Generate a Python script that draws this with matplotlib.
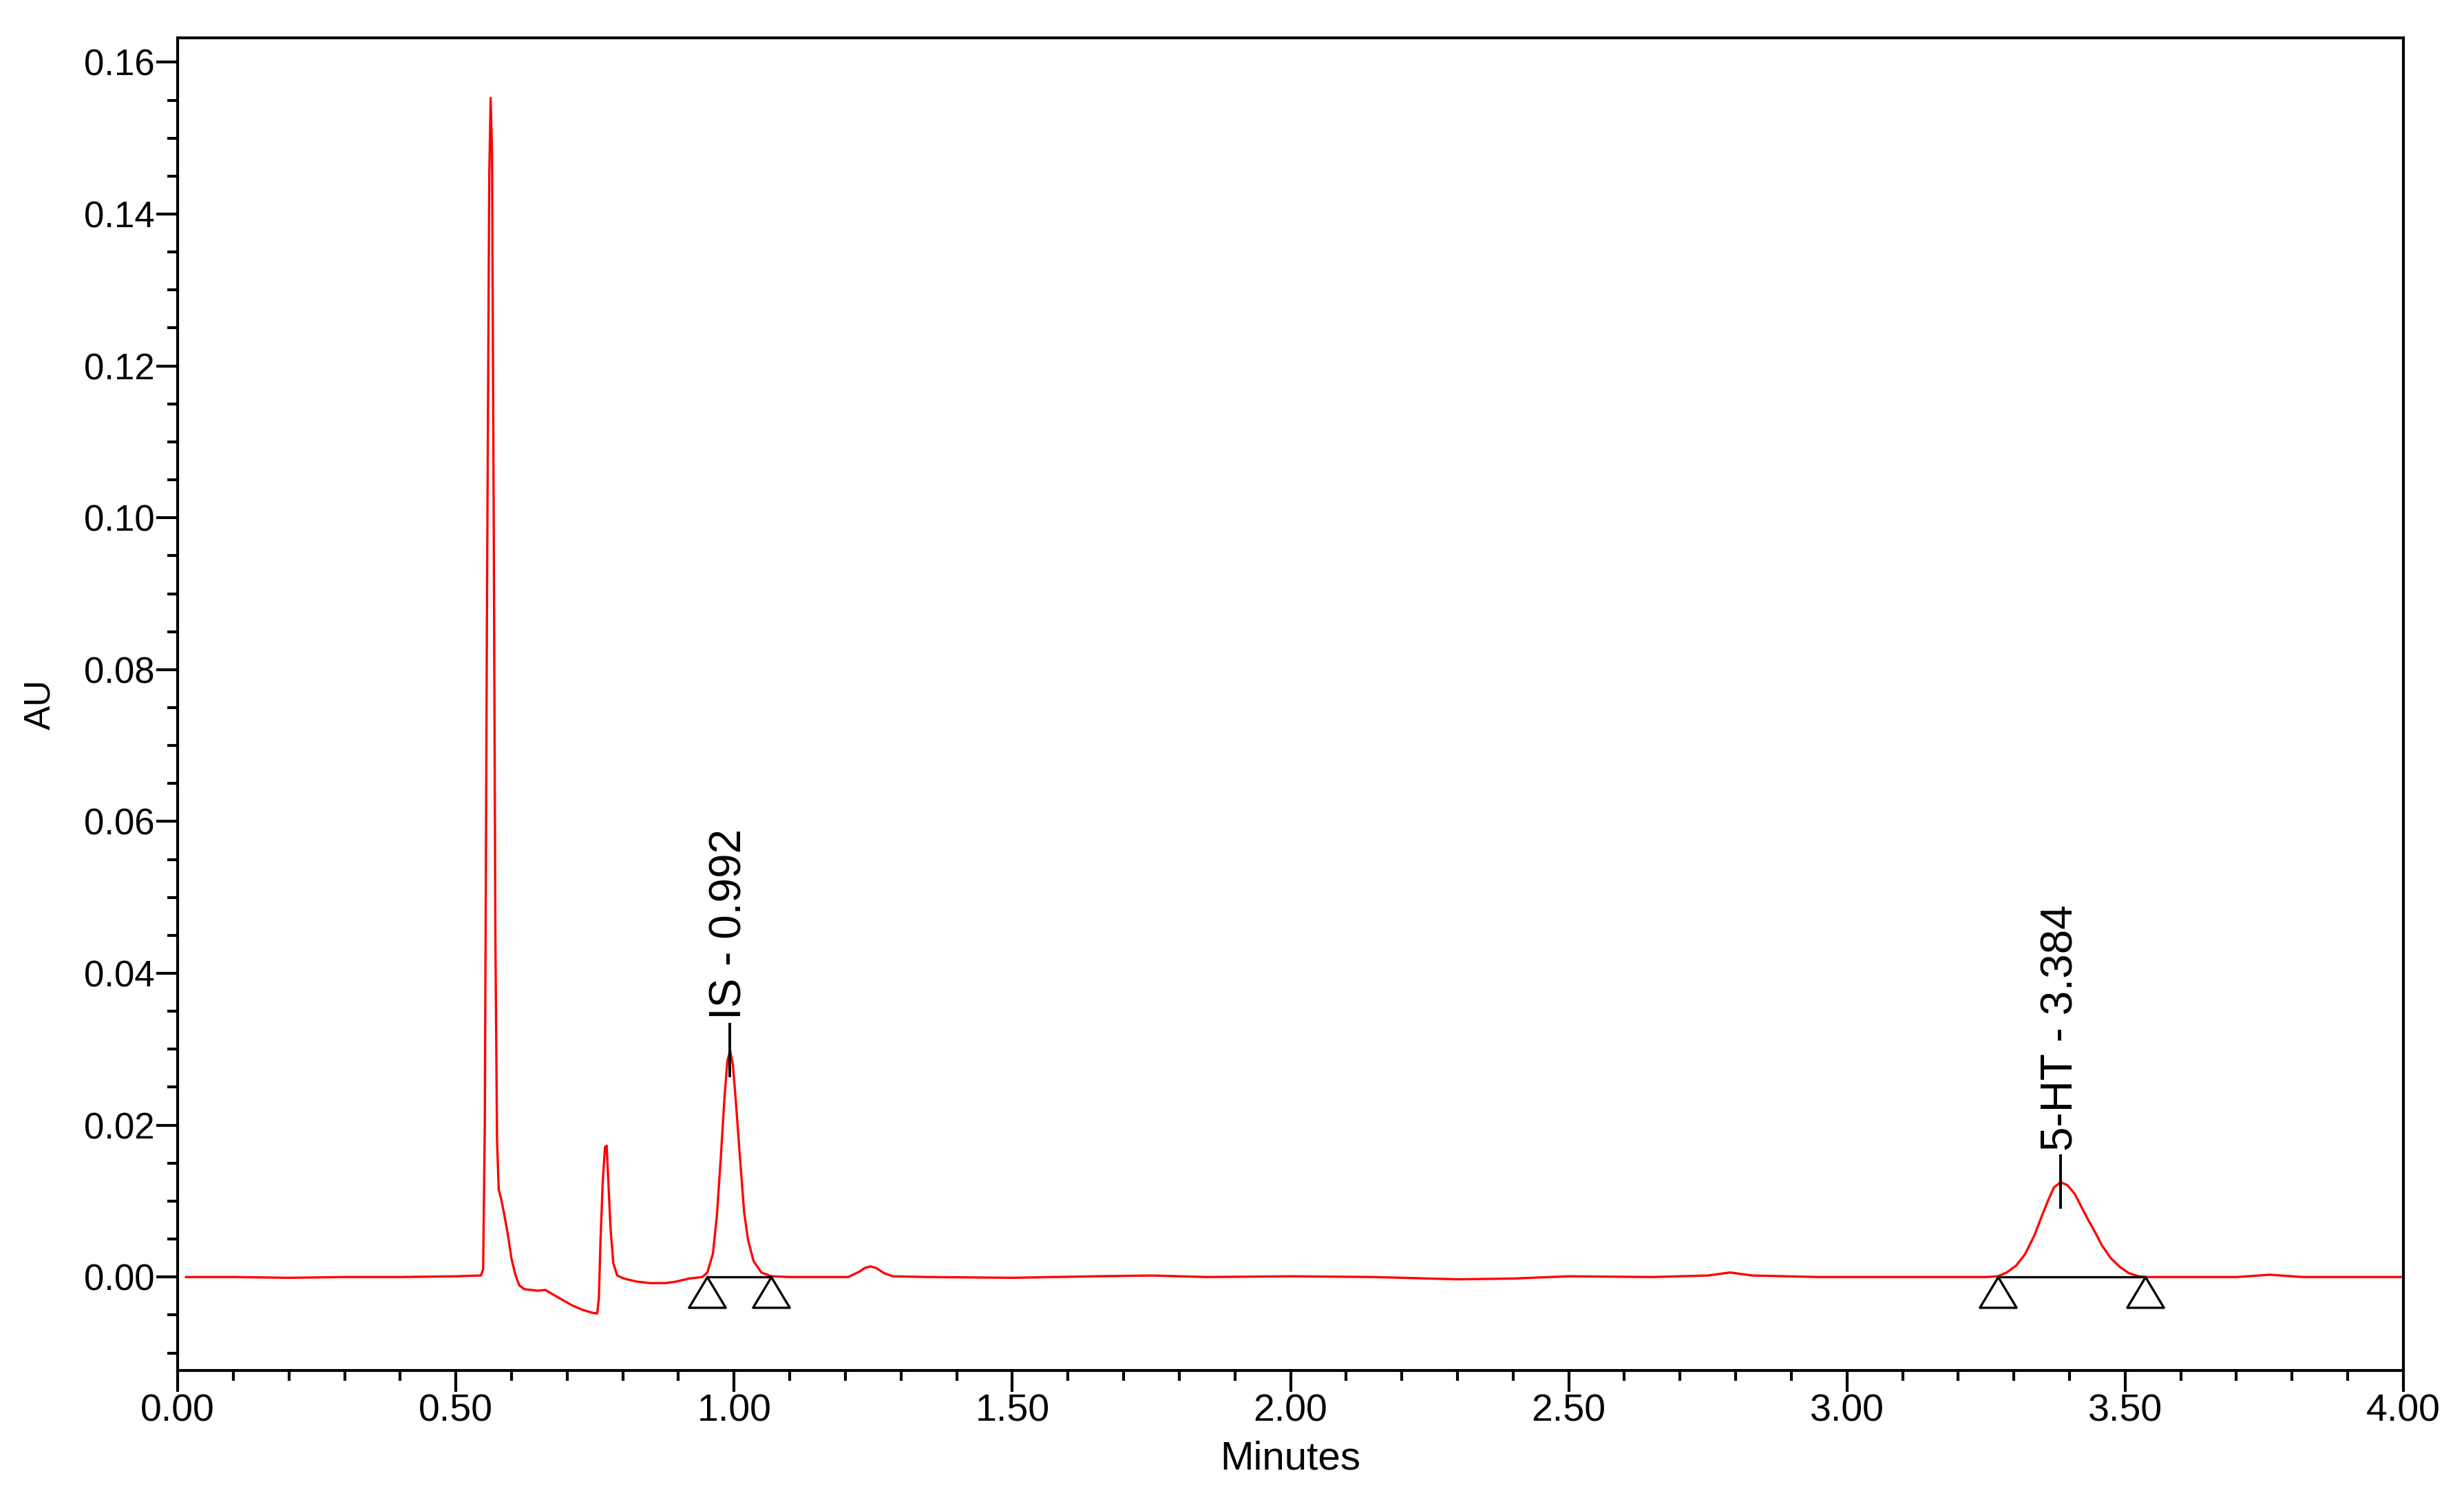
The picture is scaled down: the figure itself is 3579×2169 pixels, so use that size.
import matplotlib.pyplot as plt
from matplotlib.ticker import MultipleLocator, FormatStrFormatter

plt.rcParams['font.family'] = ['Liberation Sans', 'DejaVu Sans']

# chromatogram trace (minutes, AU)
t = [0.015, 0.10, 0.20, 0.30, 0.40, 0.50, 0.545, 0.549, 0.552, 0.556, 0.560, 0.5625,
     0.565, 0.568, 0.571, 0.574, 0.577, 0.581, 0.586, 0.593, 0.600, 0.607, 0.614,
     0.623, 0.647, 0.661, 0.670, 0.689, 0.708, 0.727, 0.745, 0.754,
     0.757, 0.760, 0.764, 0.768, 0.771, 0.774, 0.778, 0.783, 0.790, 0.802, 0.825,
     0.849, 0.877, 0.896, 0.919, 0.943,
     0.952, 0.962, 0.969, 0.976, 0.983, 0.988, 0.993, 0.998, 1.004, 1.011, 1.018,
     1.025, 1.035, 1.049, 1.067, 1.10, 1.15, 1.205, 1.225, 1.235, 1.245, 1.255,
     1.27, 1.285, 1.35, 1.50, 1.65, 1.75, 1.85, 2.00, 2.15, 2.30, 2.40, 2.50,
     2.65, 2.75, 2.79, 2.83, 2.95, 3.10, 3.25, 3.271, 3.287, 3.304, 3.320, 3.337,
     3.349, 3.361, 3.372, 3.384, 3.396, 3.409, 3.421, 3.433, 3.446, 3.458, 3.474,
     3.491, 3.507, 3.524, 3.536, 3.60, 3.70, 3.76, 3.82, 3.90, 4.00]
au = [0.0000, 0.0000, -0.0001, 0.0000, 0.0000, 0.0001, 0.0002, 0.0010, 0.0200,
      0.0900, 0.1450, 0.1553, 0.1480, 0.1000, 0.0450, 0.0180, 0.0115, 0.0104,
      0.0086, 0.0058, 0.0024, 0.0003, -0.0011, -0.0016, -0.0018, -0.0017, -0.0021,
      -0.0029, -0.0037, -0.0043, -0.0047, -0.0048,
      -0.0028, 0.0049, 0.0126, 0.0171, 0.0173, 0.0126, 0.0064, 0.0018, 0.0002,
      -0.0002, -0.0006, -0.0008, -0.0008, -0.0006, -0.0002, 0.0000,
      0.0006, 0.0031, 0.0080, 0.0156, 0.0239, 0.0285, 0.0298, 0.0279, 0.0223,
      0.0153, 0.0086, 0.0049, 0.0021, 0.0006, 0.0001, 0.0000, 0.0000, 0.0000,
      0.0007, 0.0012, 0.0014, 0.0012, 0.0005, 0.0001, 0.0000, -0.0001, 0.0001,
      0.0002, 0.0000, 0.0001, 0.0000, -0.0003, -0.0002, 0.0001, 0.0000, 0.0002,
      0.0006, 0.0002, 0.0000, 0.0000, 0.0000, 0.0001, 0.0006, 0.0015, 0.0030,
      0.0055, 0.0078, 0.0100, 0.0118, 0.0125, 0.0121, 0.0110, 0.0093, 0.0076,
      0.0059, 0.0042, 0.0025, 0.0013, 0.0005, 0.0001, 0.0000, 0.0000, 0.0000,
      0.0003, 0.0000, 0.0000, 0.0000]

# integrated peaks
peak_names = ['IS', '5-HT']
peak_rt = [0.992, 3.384]
peak_apex = [0.0298, 0.0125]
peak_start = [0.951, 3.271]
peak_end = [1.067, 3.536]

fig = plt.figure(figsize=(17.895, 10.845), dpi=200)
ax = fig.add_axes([0.0721, 0.0821, 0.9033, 0.8925])

ax.plot(t, au, color='#ff0000', lw=1.2)

for name, rt, h, s, e in zip(peak_names, peak_rt, peak_apex, peak_start, peak_end):
    ax.plot([s, e], [0, 0], color='black', lw=1.2)
    ax.plot([s, e], [0, 0], ls='none', marker=[(0, 0), (0.6, -1), (-0.6, -1), (0, 0)],
            ms=32, mfc='none', mec='black', mew=1.2)
    ax.plot([rt, rt], [h - 0.0033, h + 0.0035], color='black', lw=1.4)
    ax.text(rt, h + 0.0041, f'{name} - {rt:.3f}', rotation=90, ha='center',
            va='bottom', fontsize=23)

ax.set_xlim(0, 4)
ax.set_ylim(-0.0123, 0.1632)
ax.xaxis.set_major_locator(MultipleLocator(0.5))
ax.xaxis.set_minor_locator(MultipleLocator(0.1))
ax.yaxis.set_major_locator(MultipleLocator(0.02))
ax.yaxis.set_minor_locator(MultipleLocator(0.005))
ax.xaxis.set_major_formatter(FormatStrFormatter('%.2f'))
ax.yaxis.set_major_formatter(FormatStrFormatter('%.2f'))

for sp in ax.spines.values():
    sp.set_linewidth(1.5)
ax.tick_params(which='major', length=11, width=1.5, labelsize=19, pad=1)
ax.tick_params(which='minor', length=5.5, width=1.5)
ax.tick_params(axis='x', which='major', labelsize=20)

ax.set_xlabel('Minutes', fontsize=21, labelpad=6)
ax.set_ylabel('AU', fontsize=19, labelpad=14)

fig.savefig('out.png', dpi=200)
